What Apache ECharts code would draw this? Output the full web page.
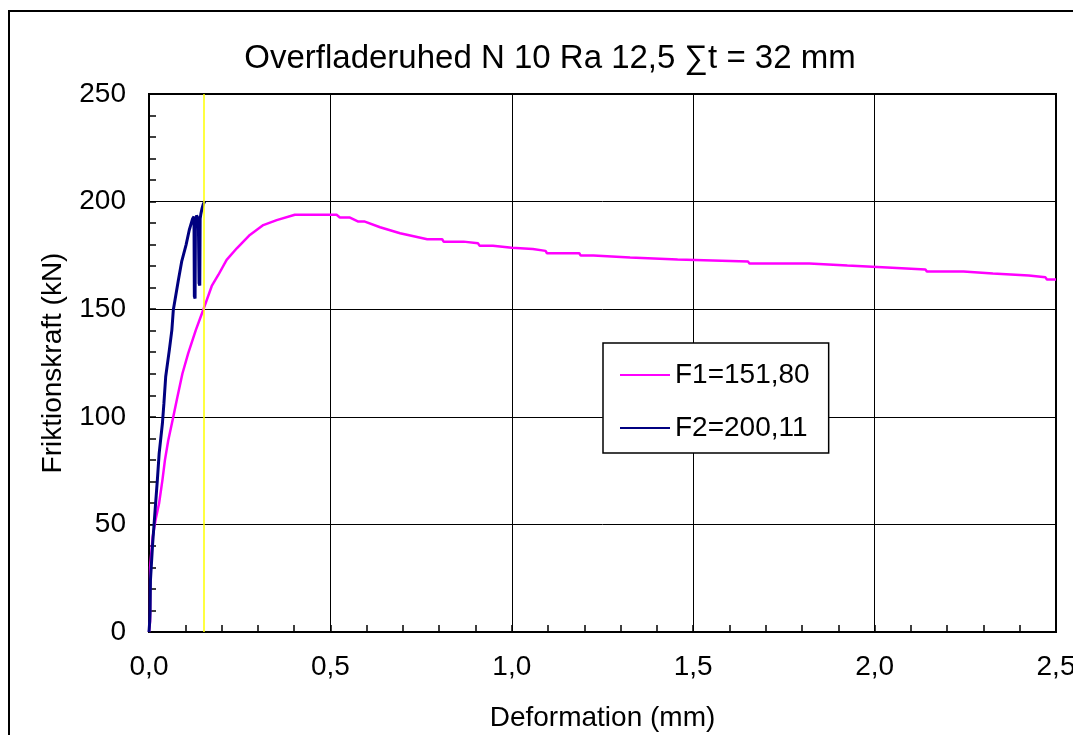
<!DOCTYPE html>
<html>
<head>
<meta charset="utf-8">
<script src="https://cdn.jsdelivr.net/npm/echarts@6/dist/echarts.min.js"></script>
<style>html,body{margin:0;padding:0;background:#fff;}#c{width:1073px;height:735px;}</style>
</head>
<body>
<div id="c"></div>
<script>
const titleText = 'Overfladeruhed N 10 Ra 12,5 \u2211t = 32 mm';
const xName = 'Deformation (mm)';
const yName = 'Friktionskraft (kN)';
const seriesNames = ['F1=151,80', 'F2=200,11'];
const markerX = 0.154;

// F1 (magenta): deformation (mm), force (kN)
const f1X = [0,0.003,0.003,0.010,0.018,0.028,0.037,0.044,0.053,0.067,0.078,0.092,0.108,0.129,0.141,0.154,0.173,0.191,0.214,0.242,0.278,0.315,0.352,0.402,0.517,0.526,0.554,0.577,0.595,0.637,0.692,0.767,0.808,0.812,0.867,0.871,0.907,0.911,0.948,0.952,1.000,1.004,1.058,1.062,1.093,1.097,1.186,1.190,1.225,1.229,1.326,1.330,1.457,1.461,1.651,1.655,1.820,1.824,1.925,1.929,2.035,2.039,2.140,2.144,2.245,2.249,2.326,2.330,2.425,2.429,2.471,2.475,2.5];
const f1Y = [0,5,30,44,52,60,70.6,80,89,100,109,120,129.5,140.3,145.8,151.8,160.8,165.9,172.9,178.3,184.5,189.1,191.4,193.9,193.9,192.6,192.6,190.7,190.7,188.1,185.3,182.5,182.5,181.4,181.4,180.6,180.6,179.5,179.5,178.6,178.6,178.0,178.0,177.1,177.1,176.0,176.0,174.9,174.9,174.0,174.0,173.1,173.1,172.2,172.2,171.2,171.2,170.3,170.3,169.4,169.4,168.5,168.5,167.5,167.5,166.6,166.6,165.7,165.7,164.8,164.8,163.8,163.8];

// F2 (navy)
const f2X = [0,0.002,0.003,0.004,0.010,0.017,0.023,0.028,0.037,0.041,0.046,0.056,0.063,0.067,0.081,0.090,0.102,0.111,0.120,0.124,0.125,0.127,0.128,0.131,0.136,0.138,0.140,0.141,0.143,0.146,0.150,0.154];
const f2Y = [0,5,9,24,41,57,70.6,83,97,106,118.6,131,140.3,149.6,163.6,172.1,179.8,186.8,192,193,156,155,190,193.5,192,162,161,192,194.3,196.7,199,200.11];

const xTicks = {min:0, max:2.5, interval:0.5};
const yTicks = {min:0, max:250, interval:50};

const FONT = "'Liberation Sans', Arial, sans-serif";
const zip = (a,b) => a.map((v,i)=>[v,b[i]]);

const chart = echarts.init(document.getElementById('c'), null, {renderer:'canvas'});
chart.setOption({
  backgroundColor:'#fff',
  animation:false,
  textStyle:{fontFamily:FONT, color:'#000'},
  title:{text:titleText, left:545, top:37, textAlign:'center',
    textStyle:{fontFamily:FONT, fontSize:33, fontWeight:'normal', color:'#000'}},
  graphic:[{type:'rect', shape:{x:9, y:11, width:1200, height:900}, style:{fill:'none', stroke:'#000', lineWidth:2}, z:-1}],
  grid:{left:149, right:17, top:94, bottom:103, show:true, borderColor:'#000', borderWidth:2,
    backgroundColor:'transparent', containLabel:false, outerBoundsMode:'none'},
  legend:{
    orient:'vertical', left:603, top:343,
    backgroundColor:'#fff', borderColor:'#000', borderWidth:1.5,
    padding:[18,19,11,17], itemGap:25, itemWidth:50, itemHeight:28,
    textStyle:{fontFamily:FONT, fontSize:28, color:'#000'},
    data: seriesNames.map(n=>({name:n, icon:'path://M0,13 L50,13 L50,15 L0,15 Z'})),
  },
  xAxis:{
    type:'value', min:xTicks.min, max:xTicks.max, interval:xTicks.interval,
    name:xName, nameLocation:'middle', nameGap:72,
    nameTextStyle:{fontFamily:FONT, fontSize:28, color:'#000'},
    axisLine:{show:true, onZero:false, lineStyle:{color:'#000', width:2}},
    axisTick:{show:true, inside:true, length:7, lineStyle:{color:'#000', width:1.5}},
    minorTick:{show:true, splitNumber:5, length:7, lineStyle:{color:'#000', width:1.5}},
    splitLine:{show:true, lineStyle:{color:'#000', width:1}},
    axisLabel:{fontFamily:FONT, fontSize:28, color:'#000', margin:21,
      formatter:v=>v.toFixed(1).replace('.',',')}
  },
  yAxis:{
    type:'value', min:yTicks.min, max:yTicks.max, interval:yTicks.interval,
    name:yName, nameLocation:'middle', nameGap:82, nameRotate:90,
    nameTextStyle:{fontFamily:FONT, fontSize:28, color:'#000'},
    axisLine:{show:true, onZero:false, lineStyle:{color:'#000', width:2}},
    axisTick:{show:true, inside:true, length:7, lineStyle:{color:'#000', width:1.5}},
    minorTick:{show:true, splitNumber:5, length:7, lineStyle:{color:'#000', width:1.5}},
    splitLine:{show:true, lineStyle:{color:'#000', width:1}},
    axisLabel:{fontFamily:FONT, fontSize:28, color:'#000', margin:23}
  },
  series:[
    {name:seriesNames[0], type:'line', data:zip(f1X,f1Y), symbol:'none', color:'#ff00ff',
      lineStyle:{color:'#ff00ff', width:2.5}, z:3,
      markLine:{silent:true, symbol:'none', label:{show:false},
        lineStyle:{color:'#ffff00', width:1.5, type:'solid', opacity:1},
        data:[{xAxis:markerX}]}},
    {name:seriesNames[1], type:'line', data:zip(f2X,f2Y), symbol:'none', color:'#000080',
      lineStyle:{color:'#000080', width:3}, z:4}
  ]
});
</script>
</body>
</html>
